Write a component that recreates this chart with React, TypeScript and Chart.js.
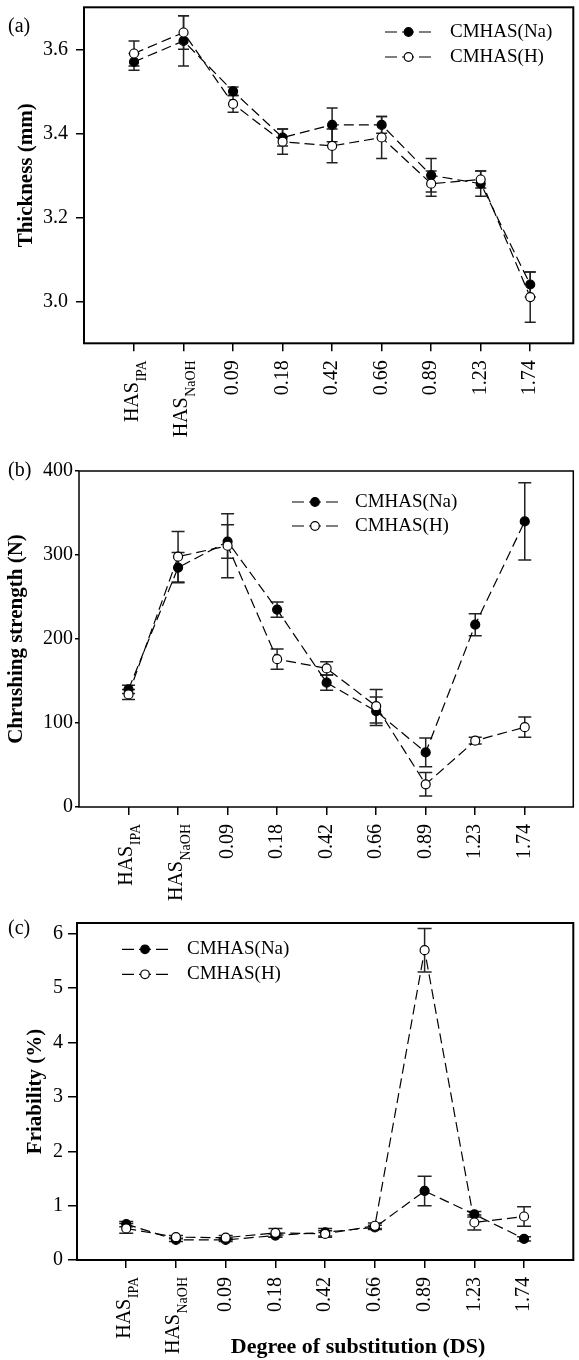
import React, { useEffect, useRef } from 'react';
import { Chart, registerables } from 'chart.js';

Chart.register(...registerables);

const FONT = '"Liberation Serif", "Times New Roman", Times, serif';

// ---- data ----
const categories = ['HAS_IPA', 'HAS_NaOH', '0.09', '0.18', '0.42', '0.66', '0.89', '1.23', '1.74'];
const xLabelMain = ['HAS', 'HAS', '0.09', '0.18', '0.42', '0.66', '0.89', '1.23', '1.74'];
const xLabelSub = ['IPA', 'NaOH', '', '', '', '', '', '', ''];
const seriesNames = ['CMHAS(Na)', 'CMHAS(H)'];

const thicknessNa = [3.57, 3.62, 3.5, 3.39, 3.42, 3.42, 3.3, 3.28, 3.04];
const thicknessNaErr = [0.02, 0.06, 0.01, 0.02, 0.04, 0.02, 0.04, 0.03, 0.03];
const thicknessH = [3.59, 3.64, 3.47, 3.38, 3.37, 3.39, 3.28, 3.29, 3.01];
const thicknessHErr = [0.03, 0.04, 0.02, 0.03, 0.04, 0.05, 0.03, 0.02, 0.06];
const thicknessTicks = [3.0, 3.2, 3.4, 3.6];

const strengthNa = [140, 285, 316, 235, 148, 114, 65, 217, 340];
const strengthNaErr = [5, 18, 20, 9, 9, 17, 17, 13, 46];
const strengthH = [134, 298, 311, 176, 165, 120, 27, 79, 95];
const strengthHErr = [6, 30, 38, 12, 8, 20, 14, 4, 12];
const strengthTicks = [0, 100, 200, 300, 400];

const friabilityNa = [0.66, 0.37, 0.37, 0.45, 0.51, 0.6, 1.27, 0.84, 0.39];
const friabilityNaErr = [0.05, 0.03, 0.03, 0.03, 0.07, 0.04, 0.27, 0.05, 0.04];
const friabilityH = [0.58, 0.42, 0.41, 0.5, 0.48, 0.63, 5.7, 0.69, 0.8];
const friabilityHErr = [0.09, 0.03, 0.04, 0.08, 0.06, 0.05, 0.4, 0.14, 0.18];
const friabilityTicks = [0, 1, 2, 3, 4, 5, 6];

type Panel = {
  tag: string;
  canvasTop: number;
  canvasH: number;
  left: number;
  top: number;
  right: number;
  bottom: number;
  xMin: number;
  xMax: number;
  yMin: number;
  yMax: number;
  yTicks: number[];
  yDecimals: number;
  yTitle: string;
  yTitleCenter: number;
  yTickLen: number;
  yTickPad: number;
  na: number[];
  naErr: number[];
  h: number[];
  hErr: number[];
  legX0: number;
  legX1: number;
  legTextX: number;
  legY: number[];
  tagY: number;
  capHalf: number;
  boxWidth: number;
  xTitle?: { text: string; x: number; y: number };
};

const panels: Panel[] = [
  {
    tag: '(a)', canvasTop: 0, canvasH: 460,
    left: 84, top: 7.3, right: 578, bottom: 343.3,
    xMin: -1.01, xMax: 8.87,
    yMin: 2.9, yMax: 3.7, yTicks: thicknessTicks, yDecimals: 1,
    yTitle: 'Thickness (mm)', yTitleCenter: 27, yTickLen: 8, yTickPad: 8,
    na: thicknessNa, naErr: thicknessNaErr, h: thicknessH, hErr: thicknessHErr,
    legX0: 385, legX1: 432, legTextX: 450, legY: [32, 57],
    tagY: 27, capHalf: 5.5, boxWidth: 2,
  },
  {
    tag: '(b)', canvasTop: 460, canvasH: 460,
    left: 79, top: 11, right: 578, bottom: 347,
    xMin: -1, xMax: 8.98,
    yMin: 0, yMax: 400, yTicks: strengthTicks, yDecimals: 0,
    yTitle: 'Chrushing strength (N)', yTitleCenter: 17, yTickLen: 4, yTickPad: 2,
    na: strengthNa, naErr: strengthNaErr, h: strengthH, hErr: strengthHErr,
    legX0: 292, legX1: 338, legTextX: 355, legY: [42, 66],
    tagY: 11, capHalf: 6.5, boxWidth: 1.5,
  },
  {
    tag: '(c)', canvasTop: 915, canvasH: 445,
    left: 77, top: 8, right: 576, bottom: 345,
    xMin: -0.99, xMax: 8.99,
    yMin: 0, yMax: 6.2, yTicks: friabilityTicks, yDecimals: 0,
    yTitle: 'Friability (%)', yTitleCenter: 36, yTickLen: 9, yTickPad: 5,
    na: friabilityNa, naErr: friabilityNaErr, h: friabilityH, hErr: friabilityHErr,
    legX0: 122, legX1: 168, legTextX: 187, legY: [34.3, 59.3],
    tagY: 14, capHalf: 7, boxWidth: 2,
    xTitle: { text: 'Degree of substitution (DS)', x: 358, y: 432 },
  },
];

function drawMarker(ctx: CanvasRenderingContext2D, x: number, y: number, r: number, filled: boolean) {
  ctx.save();
  ctx.setLineDash([]);
  ctx.beginPath();
  ctx.arc(x, y, r, 0, Math.PI * 2);
  ctx.fillStyle = filled ? '#000' : '#fff';
  ctx.fill();
  ctx.lineWidth = 1.2;
  ctx.strokeStyle = '#000';
  ctx.stroke();
  ctx.restore();
}

function PanelChart({ cfg }: { cfg: Panel }) {
  const ref = useRef<HTMLCanvasElement | null>(null);

  useEffect(() => {
    if (!ref.current) return;
    const toPts = (vals: number[]) => categories.map((_, i) => ({ x: i, y: vals[i] }));

    const errorPlugin = {
      id: 'errorBars',
      beforeDatasetsDraw(chart: any) {
        const ctx = chart.ctx as CanvasRenderingContext2D;
        const xs = chart.scales.x;
        const ys = chart.scales.y;
        ctx.save();
        ctx.strokeStyle = '#222';
        ctx.lineWidth = 1.5;
        chart.data.datasets.forEach((ds: any) => {
          const vals: number[] = ds.values;
          const errs: number[] = ds.errors;
          vals.forEach((v, i) => {
            const px = xs.getPixelForValue(i);
            const y1 = ys.getPixelForValue(v + errs[i]);
            const y2 = ys.getPixelForValue(v - errs[i]);
            ctx.beginPath();
            ctx.moveTo(px, y1);
            ctx.lineTo(px, y2);
            ctx.moveTo(px - cfg.capHalf, y1);
            ctx.lineTo(px + cfg.capHalf, y1);
            ctx.moveTo(px - cfg.capHalf, y2);
            ctx.lineTo(px + cfg.capHalf, y2);
            ctx.stroke();
          });
        });
        ctx.restore();
      },
    };

    const decorPlugin = {
      id: 'decor',
      afterDraw(chart: any) {
        const ctx = chart.ctx as CanvasRenderingContext2D;
        const area = chart.chartArea;
        const xs = chart.scales.x;
        ctx.save();
        // frame
        ctx.strokeStyle = '#000';
        ctx.lineWidth = cfg.boxWidth;
        ctx.strokeRect(area.left, area.top, area.right - area.left, area.bottom - area.top);

        // x tick labels (rotated, with subscripts)
        ctx.fillStyle = '#000';
        xLabelMain.forEach((main, i) => {
          const px = xs.getPixelForValue(i);
          ctx.save();
          ctx.translate(px, area.bottom + 17);
          ctx.rotate(-Math.PI / 2);
          const sub = xLabelSub[i];
          ctx.textAlign = 'right';
          if (sub) {
            ctx.textBaseline = 'alphabetic';
            ctx.font = `14px ${FONT}`;
            const w = ctx.measureText(sub).width;
            ctx.fillText(sub, 0, 11.5);
            ctx.font = `20px ${FONT}`;
            ctx.fillText(main, -w - 0.5, 3.5);
          } else {
            ctx.textBaseline = 'middle';
            ctx.font = `20px ${FONT}`;
            ctx.fillText(main, 0, 0);
          }
          ctx.restore();
        });

        // panel tag
        ctx.font = `20px ${FONT}`;
        ctx.textAlign = 'left';
        ctx.textBaseline = 'middle';
        ctx.fillText(cfg.tag, 8, cfg.tagY);

        // legend
        chart.data.datasets.forEach((ds: any, k: number) => {
          const y = cfg.legY[k];
          ctx.save();
          ctx.strokeStyle = '#000';
          ctx.lineWidth = 1.2;
          ctx.setLineDash([12, 5]);
          ctx.beginPath();
          ctx.moveTo(cfg.legX0, y);
          ctx.lineTo(cfg.legX1, y);
          ctx.stroke();
          ctx.restore();
          drawMarker(ctx, (cfg.legX0 + cfg.legX1) / 2, y, 4.3, ds.pointBackgroundColor === '#000');
          ctx.fillStyle = '#000';
          ctx.font = `19px ${FONT}`;
          ctx.textAlign = 'left';
          ctx.textBaseline = 'middle';
          ctx.fillText(ds.label, cfg.legTextX, y);
        });

        // x axis title
        if (cfg.xTitle) {
          ctx.font = `bold 22px ${FONT}`;
          ctx.textAlign = 'center';
          ctx.textBaseline = 'middle';
          ctx.fillText(cfg.xTitle.text, cfg.xTitle.x, cfg.xTitle.y);
        }
        ctx.restore();
      },
    };

    const resetPad = (s: any) => {
      s.paddingLeft = 0;
      s.paddingRight = 0;
      s.paddingTop = 0;
      s.paddingBottom = 0;
    };

    const chart = new Chart(ref.current, {
      type: 'line',
      data: {
        datasets: [
          {
            label: seriesNames[0],
            data: toPts(cfg.na),
            values: cfg.na,
            errors: cfg.naErr,
            order: 1,
            borderColor: '#000',
            borderWidth: 1.2,
            borderDash: [10, 5],
            tension: 0,
            fill: false,
            pointRadius: 4.5,
            pointBackgroundColor: '#000',
            pointBorderColor: '#000',
            pointBorderWidth: 1.2,
          } as any,
          {
            label: seriesNames[1],
            data: toPts(cfg.h),
            values: cfg.h,
            errors: cfg.hErr,
            order: 0,
            borderColor: '#000',
            borderWidth: 1.2,
            borderDash: [10, 5],
            tension: 0,
            fill: false,
            pointRadius: 4.5,
            pointBackgroundColor: '#fff',
            pointBorderColor: '#000',
            pointBorderWidth: 1.2,
          } as any,
        ],
      },
      options: {
        animation: false,
        responsive: false,
        devicePixelRatio: 1,
        events: [],
        layout: { padding: { left: 0, top: cfg.top, right: 579 - cfg.right, bottom: 0 } },
        plugins: { legend: { display: false }, tooltip: { enabled: false } },
        scales: {
          x: {
            type: 'linear',
            min: cfg.xMin,
            max: cfg.xMax,
            afterBuildTicks: (s: any) => {
              s.ticks = categories.map((_, i) => ({ value: i }));
            },
            afterFit: (s: any) => {
              s.height = cfg.canvasH - cfg.bottom;
              resetPad(s);
            },
            ticks: { display: false, autoSkip: false },
            grid: { drawOnChartArea: false, drawTicks: true, tickLength: 8, color: '#000', lineWidth: 1.5 },
            border: { display: false },
          },
          y: {
            type: 'linear',
            min: cfg.yMin,
            max: cfg.yMax,
            afterBuildTicks: (s: any) => {
              s.ticks = cfg.yTicks.map((v) => ({ value: v }));
            },
            afterFit: (s: any) => {
              s.width = cfg.left;
              resetPad(s);
            },
            ticks: {
              autoSkip: false,
              color: '#000',
              padding: cfg.yTickPad,
              font: { family: FONT, size: 20 },
              callback: (v: any) => Number(v).toFixed(cfg.yDecimals),
            },
            grid: { drawOnChartArea: false, drawTicks: true, tickLength: cfg.yTickLen, color: '#000', lineWidth: 1.5 },
            border: { display: false },
            title: {
              display: true,
              text: cfg.yTitle,
              color: '#000',
              font: { family: FONT, size: 21, weight: 'bold' },
              padding: { top: cfg.yTitleCenter - 12.6, bottom: 0 },
            },
          },
        },
      } as any,
      plugins: [errorPlugin, decorPlugin],
    });

    return () => chart.destroy();
  }, [cfg]);

  return (
    <canvas
      ref={ref}
      width={579}
      height={cfg.canvasH}
      style={{ position: 'absolute', left: 0, top: cfg.canvasTop, display: 'block' }}
    />
  );
}

export default function App() {
  return (
    <div style={{ position: 'absolute', left: 0, top: 0, width: 579, height: 1360, background: '#fff', overflow: 'hidden' }}>
      {panels.map((p) => (
        <PanelChart key={p.tag} cfg={p} />
      ))}
    </div>
  );
}
